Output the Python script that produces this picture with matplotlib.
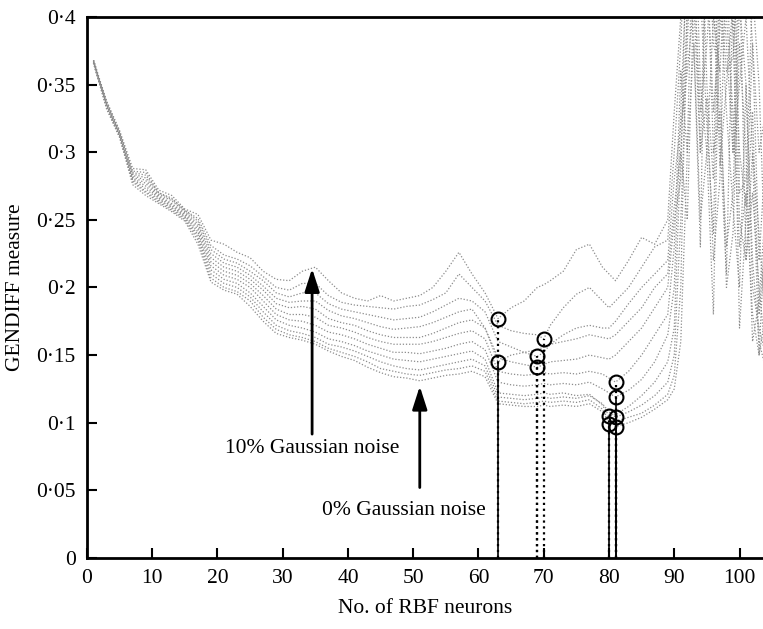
import matplotlib.pyplot as plt
from matplotlib.ticker import FixedLocator, FixedFormatter

plt.rcParams['font.family'] = ['Liberation Serif', 'DejaVu Serif']

# Number of RBF neurons (x grid)
neurons = [1, 3, 5, 7, 9, 11, 13, 15, 17, 19,
           21, 23, 25, 27, 29, 31, 33, 35, 37, 39,
           41, 43, 45, 47, 49, 51, 53, 55, 57, 59,
           61, 63, 65, 67, 69, 70,
           71, 73, 75, 77, 79, 80,
           81, 83, 85, 87,
           89, 90, 91, 92, 93, 94, 95, 96, 97, 98, 99, 100, 101, 102, 103, 104]

# GENDIFF measure for 0% ... 10% Gaussian noise
gendiff_00 = [.366, .332, .311, .276, .268, .262, .256, .249, .232, .204,
              .198, .195, .186, .175, .166, .163, .161, .158, .153, .149,
              .146, .141, .137, .134, .133, .131, .133, .135, .136, .138,
              .134, .114, .113, .112, .112, .113,
              .112, .113, .112, .114, .108, .104,
              .097, .100, .104, .110,
              .117, .125, .160, .300, .380, .250, .300, .180, .420, .330, .260, .200, .350, .200, .170, .150]
gendiff_01 = [.366, .333, .311, .278, .270, .263, .257, .250, .235, .207,
              .200, .197, .190, .178, .169, .165, .163, .160, .155, .152,
              .149, .145, .140, .138, .136, .135, .137, .139, .140, .142,
              .138, .116, .115, .114, .115, .116,
              .115, .116, .115, .117, .110, .099,
              .101, .104, .107, .113,
              .121, .135, .200, .420, .450, .300, .340, .220, .280, .450, .390, .250, .220, .300, .150, .180]
gendiff_02 = [.366, .334, .312, .279, .271, .264, .258, .251, .237, .210,
              .203, .200, .193, .182, .172, .168, .166, .163, .158, .156,
              .153, .149, .145, .142, .140, .139, .141, .143, .145, .147,
              .142, .119, .118, .117, .118, .119,
              .118, .119, .118, .120, .114, .108,
              .104, .108, .113, .120,
              .130, .150, .250, .380, .500, .350, .300, .400, .360, .200, .240, .380, .300, .160, .190, .260]
gendiff_03 = [.366, .334, .312, .280, .273, .265, .259, .252, .239, .213,
              .206, .203, .196, .186, .176, .172, .170, .167, .162, .160,
              .157, .153, .150, .147, .146, .145, .147, .149, .151, .153,
              .147, .122, .121, .120, .121, .122,
              .121, .122, .120, .121, .113, .105,
              .106, .112, .120, .130,
              .145, .170, .300, .250, .420, .480, .450, .300, .330, .230, .270, .410, .350, .220, .160, .140]
gendiff_04 = [.367, .335, .313, .281, .275, .266, .260, .253, .241, .216,
              .209, .206, .200, .190, .180, .176, .175, .172, .167, .165,
              .162, .158, .155, .152, .152, .151, .153, .155, .158, .160,
              .154, .130, .128, .127, .128, .129,
              .128, .129, .128, .130, .125, .122,
              .119, .124, .132, .145,
              .165, .200, .330, .450, .380, .230, .500, .420, .290, .350, .410, .170, .250, .330, .180, .240]
gendiff_05 = [.367, .335, .313, .282, .277, .267, .261, .254, .243, .219,
              .212, .209, .203, .194, .184, .180, .180, .178, .172, .170,
              .167, .163, .160, .158, .158, .158, .160, .163, .166, .168,
              .162, .138, .136, .135, .136, .137,
              .136, .137, .136, .138, .136, .133,
              .130, .138, .150, .165,
              .180, .230, .360, .300, .500, .420, .320, .240, .450, .380, .300, .440, .220, .270, .200, .150]
gendiff_06 = [.367, .336, .314, .283, .279, .268, .262, .255, .245, .222,
              .215, .212, .206, .198, .188, .185, .186, .184, .177, .174,
              .172, .168, .165, .163, .163, .163, .166, .170, .174, .176,
              .170, .148, .145, .143, .141, .143,
              .145, .146, .147, .150, .148, .147,
              .150, .160, .170, .185,
              .200, .250, .280, .480, .430, .330, .380, .460, .310, .210, .420, .300, .260, .380, .220, .300]
gendiff_07 = [.367, .336, .314, .284, .281, .269, .264, .256, .247, .225,
              .218, .215, .209, .201, .192, .189, .190, .190, .183, .179,
              .177, .174, .171, .169, .170, .171, .174, .178, .182, .184,
              .170, .145, .150, .152, .154, .156,
              .158, .160, .162, .165, .163, .162,
              .165, .175, .185, .200,
              .210, .260, .300, .400, .470, .500, .350, .280, .500, .400, .330, .230, .270, .180, .150, .250]
gendiff_08 = [.368, .337, .315, .285, .283, .270, .265, .257, .249, .228,
              .221, .218, .212, .205, .196, .193, .196, .196, .188, .184,
              .182, .180, .178, .176, .177, .178, .182, .187, .192, .190,
              .182, .160, .156, .152, .149, .152,
              .158, .165, .170, .172, .170, .170,
              .175, .188, .200, .210,
              .220, .280, .320, .360, .410, .300, .480, .380, .360, .450, .300, .350, .400, .300, .240, .170]
gendiff_09 = [.368, .337, .315, .286, .285, .270, .266, .257, .251, .231,
              .224, .221, .216, .208, .200, .198, .203, .203, .194, .189,
              .187, .186, .185, .184, .186, .187, .191, .196, .210, .200,
              .190, .172, .168, .166, .165, .162,
              .172, .185, .195, .200, .190, .185,
              .190, .200, .215, .230,
              .235, .300, .380, .500, .500, .400, .440, .330, .390, .480, .500, .270, .280, .420, .350, .210]
gendiff_10 = [.368, .338, .316, .288, .287, .272, .268, .258, .254, .235,
              .232, .226, .222, .212, .206, .205, .212, .215, .205, .196,
              .192, .190, .194, .190, .192, .194, .200, .212, .226, .210,
              .196, .177, .185, .190, .200, .202,
              .205, .212, .228, .232, .215, .210,
              .205, .220, .237, .232,
              .250, .330, .400, .460, .460, .500, .500, .420, .420, .360, .370, .450, .450, .380, .300, .330]

curves = [gendiff_00, gendiff_01, gendiff_02, gendiff_03, gendiff_04, gendiff_05,
          gendiff_06, gendiff_07, gendiff_08, gendiff_09, gendiff_10]

# Minimum of each curve (optimal number of neurons)
min_neurons = [81, 80, 81, 80, 81, 81, 69, 63, 69, 70, 63]
min_values = [0.097, 0.099, 0.104, 0.105, 0.119, 0.130, 0.141, 0.145, 0.149, 0.162, 0.177]
stem_styles = ['-', '-', ':', ':', '-', ':', ':', '-', ':', ':', ':']

y_ticks = [0, 0.05, 0.1, 0.15, 0.2, 0.25, 0.3, 0.35, 0.4]
y_tick_labels = ['0', '0·05', '0·1', '0·15', '0·2', '0·25', '0·3', '0·35', '0·4']
x_ticks = [0, 10, 20, 30, 40, 50, 60, 70, 80, 90, 100]

fig = plt.figure(figsize=(7.63, 6.29), dpi=100)
ax = fig.add_axes([0.114, 0.113, 0.886, 0.86])

for c in curves:
    ax.plot(neurons, c, color='0.55', linestyle=(0, (1, 1.5)), linewidth=0.9)

for xm, ym, ls in zip(min_neurons, min_values, stem_styles):
    ax.plot([xm, xm], [0, ym], color='black', linestyle=ls,
            linewidth=1.2 if ls == '-' else 1.6)
ax.plot(min_neurons, min_values, 'o', markersize=10, markerfacecolor='none',
        markeredgecolor='black', markeredgewidth=1.5, linestyle='none')

# Arrows and labels
arrow = dict(arrowstyle='-|>,head_width=0.45,head_length=1.4', color='black', lw=2)
ax.annotate('', xy=(34.5, 0.216), xytext=(34.5, 0.0895), arrowprops=arrow)
ax.text(34.5, 0.081, '10% Gaussian noise', ha='center', va='center', fontsize=15.5)
ax.annotate('', xy=(51, 0.129), xytext=(51, 0.05), arrowprops=arrow)
ax.text(48.6, 0.035, '0% Gaussian noise', ha='center', va='center', fontsize=15.5)

ax.set_xlim(0, 103.6)
ax.set_ylim(0, 0.4)
ax.xaxis.set_major_locator(FixedLocator(x_ticks))
ax.yaxis.set_major_locator(FixedLocator(y_ticks))
ax.yaxis.set_major_formatter(FixedFormatter(y_tick_labels))
ax.tick_params(direction='in', length=7, width=1.5, labelsize=15.5, pad=8)
ax.tick_params(axis='x', pad=8)
ax.spines['right'].set_visible(False)
for s in ['left', 'bottom', 'top']:
    ax.spines[s].set_linewidth(2)

ax.set_xlabel('No. of RBF neurons', fontsize=15.5, labelpad=8)
ax.set_ylabel('GENDIFF measure', fontsize=15.5, labelpad=8)

fig.savefig('out.png', dpi=100)
